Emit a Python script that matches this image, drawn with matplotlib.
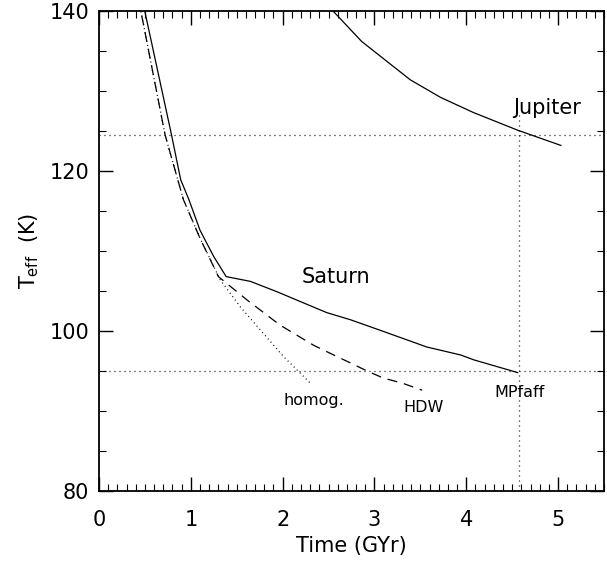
import matplotlib
matplotlib.use("Agg")
import matplotlib.pyplot as plt
from matplotlib.ticker import MultipleLocator

# ── data ──────────────────────────────────────────────────────────────────────
# Saturn, MPfaff model (solid)
sat_mp_t = [0.47, 0.63, 0.79, 0.89, 0.98, 1.10, 1.25, 1.385, 1.65, 1.94,
            2.23, 2.48, 2.74, 3.06, 3.57, 3.94, 4.08, 4.56]
sat_mp_T = [141.5, 133.0, 124.5, 118.9, 116.4, 112.6, 109.3, 106.8, 106.2, 104.9,
            103.5, 102.3, 101.4, 100.1, 98.0, 97.0, 96.4, 94.8]

# Saturn, HDW model (dashed)
sat_hdw_t = [0.43, 0.575, 0.72, 0.92, 1.10, 1.30, 1.61, 1.97, 2.34, 2.52,
             2.74, 2.92, 3.10, 3.30, 3.52]
sat_hdw_T = [141.5, 133.0, 124.5, 116.4, 111.6, 106.8, 103.9, 100.75, 98.2, 97.2,
             96.0, 95.0, 94.1, 93.5, 92.6]

# Saturn, homogeneous model (dotted)
sat_hom_t = [0.43, 0.575, 0.72, 0.92, 1.10, 1.32, 1.54, 1.79, 2.01, 2.30]
sat_hom_T = [141.5, 133.0, 124.5, 116.4, 111.6, 106.4, 103.0, 99.7, 96.8, 93.5]

# Jupiter (solid)
jup_t = [2.50, 2.86, 3.39, 3.72, 4.08, 4.56, 5.03]
jup_T = [140.6, 136.2, 131.4, 129.2, 127.3, 125.1, 123.2]

# observed values / age of the solar system
T_jup_obs = 124.5
T_sat_obs = 95.0
age_sun = 4.57

labels = ["Jupiter", "Saturn", "homog.", "HDW", "MPfaff"]
label_t = [4.51, 2.21, 2.01, 3.31, 4.31]
label_T = [127.1, 106.0, 90.75, 89.9, 91.8]
label_size = [15, 15, 11.5, 11.5, 11.5]

FONT = "DejaVu Sans"

plt.rcParams.update({
    "font.family": FONT,
    "axes.linewidth": 1.3,
    "xtick.direction": "in",
    "ytick.direction": "in",
    "xtick.top": True,
    "ytick.right": True,
})

fig = plt.figure(figsize=(6.07, 5.63), dpi=100)
ax = fig.add_axes([99 / 607, 1 - 491 / 563, 505 / 607, 480 / 563])

ax.plot(sat_mp_t, sat_mp_T, color="black", lw=0.9)
ax.plot(sat_hdw_t, sat_hdw_T, color="black", lw=0.9, dashes=(8, 5.5))
ax.plot(sat_hom_t, sat_hom_T, color="black", lw=0.9, dashes=(0.8, 2.6))
ax.plot(jup_t, jup_T, color="black", lw=0.9)

# reference lines
ax.axhline(T_jup_obs, color="black", lw=0.9, dashes=(0.8, 3.2))
ax.axhline(T_sat_obs, color="black", lw=0.9, dashes=(0.8, 3.2))
ax.plot([age_sun, age_sun], [80, 127.0], color="black", lw=0.9, dashes=(0.8, 3.2))

for txt, t, T, fs in zip(labels, label_t, label_T, label_size):
    ax.text(t, T, txt, fontsize=fs, ha="left", va="baseline")

ax.set_xlim(0, 5.5)
ax.set_ylim(80, 140)
ax.xaxis.set_major_locator(MultipleLocator(1))
ax.xaxis.set_minor_locator(MultipleLocator(0.1))
ax.yaxis.set_major_locator(MultipleLocator(20))
ax.yaxis.set_minor_locator(MultipleLocator(5))
ax.tick_params(which="major", length=10, width=1.0, labelsize=15)
ax.tick_params(which="minor", length=5, width=0.8)
ax.tick_params(axis="x", which="major", pad=14)
ax.tick_params(axis="y", which="major", pad=7)

ax.set_xlabel("Time (GYr)", fontsize=15, labelpad=4)
ax.set_ylabel(r"T$_{\rm eff}$  (K)", fontsize=15, labelpad=6)

fig.savefig("out.png", dpi=100)
